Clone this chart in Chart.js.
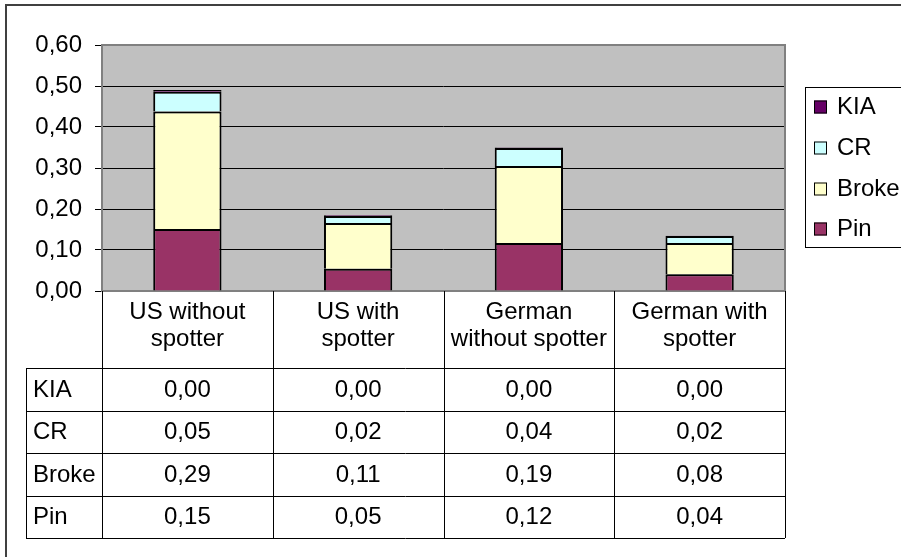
<!DOCTYPE html>
<html>
<head>
<meta charset="utf-8">
<script src="https://cdn.jsdelivr.net/npm/chart.js@4.4.1/dist/chart.umd.min.js"></script>
<style>
  html, body { margin: 0; padding: 0; background: #ffffff; }
  #wrap { position: relative; width: 901px; height: 557px; }
</style>
</head>
<body>
<div id="wrap"><canvas id="c" width="901" height="557"></canvas></div>
<script>
// ---- data ----
const categories = [
  ["US without", "spotter"],
  ["US with", "spotter"],
  ["German", "without spotter"],
  ["German with", "spotter"]
];
const seriesNames = ["Pin", "Broke", "CR", "KIA"];
const pinValues   = [0.151, 0.054, 0.117, 0.041];
const brokeValues = [0.287, 0.112, 0.188, 0.076];
const crValues    = [0.048, 0.017, 0.044, 0.017];
const kiaValues   = [0.004, 0.002, 0.001, 0.001];
const yTicks = [0, 0.1, 0.2, 0.3, 0.4, 0.5, 0.6];

// ---- styles ----
const FONT = '"Liberation Sans", Arial, sans-serif';
const FS = 24;
const colors = { Pin: "#993366", Broke: "#FFFFCC", CR: "#CCFFFF", KIA: "#660066" };
const seriesValues = { Pin: pinValues, Broke: brokeValues, CR: crValues, KIA: kiaValues };

const fmt = v => v.toFixed(2).replace(".", ",");

const datasets = seriesNames.map(name => ({
  label: name,
  data: seriesValues[name],
  backgroundColor: colors[name],
  borderColor: "#000000",
  borderWidth: 2,
  barPercentage: 0.4,
  categoryPercentage: 1.0
}));

const decorPlugin = {
  id: "decor",
  beforeDraw(chart) {
    const { ctx, chartArea: a } = chart;
    ctx.save();
    ctx.fillStyle = "#ffffff";
    ctx.fillRect(0, 0, chart.width, chart.height);
    ctx.fillStyle = "#C0C0C0";
    ctx.fillRect(a.left, a.top, a.right - a.left, a.bottom - a.top);
    ctx.restore();
  },
  beforeDatasetsDraw(chart) {
    const { ctx, chartArea: a } = chart;
    ctx.save();
    ctx.strokeStyle = "#808080";
    ctx.lineWidth = 2;
    ctx.strokeRect(a.left, a.top, a.right - a.left, a.bottom - a.top);
    ctx.restore();
  },
  afterDraw(chart) {
    const { ctx, chartArea: a } = chart;
    const xs = chart.scales.x;
    const n = categories.length;
    const colW = (a.right - a.left) / n;
    const headerBottom = xs.bottom;          // bottom of the category header row
    const rowH = 42.5;
    const tableLeft = 26;
    const rows = ["KIA", "CR", "Broke", "Pin"];
    const tableBottom = headerBottom + rowH * rows.length;

    ctx.save();
    // outer chart frame
    ctx.strokeStyle = "#404040";
    ctx.lineWidth = 2;
    ctx.beginPath();
    ctx.moveTo(6, 557); ctx.lineTo(6, 5); ctx.lineTo(901, 5);
    ctx.stroke();

    // data table lines
    ctx.strokeStyle = "#000000";
    ctx.lineWidth = 1;
    ctx.beginPath();
    for (let i = 0; i <= n; i++) {
      const x = Math.round(a.left + i * colW) + 0.5;
      ctx.moveTo(x, a.bottom); ctx.lineTo(x, tableBottom);
    }
    ctx.moveTo(tableLeft + 0.5, headerBottom); ctx.lineTo(tableLeft + 0.5, tableBottom);
    for (let r = 0; r <= rows.length; r++) {
      const y = Math.round(headerBottom + r * rowH) + 0.5;
      ctx.moveTo(tableLeft, y); ctx.lineTo(a.right, y);
    }
    ctx.stroke();

    // table text
    ctx.fillStyle = "#000000";
    ctx.font = FS + "px " + FONT;
    ctx.textBaseline = "middle";
    rows.forEach((name, r) => {
      const yc = headerBottom + r * rowH + rowH / 2 + 1;
      ctx.textAlign = "left";
      ctx.fillText(name, 33, yc);
      ctx.textAlign = "center";
      seriesValues[name].forEach((v, i) => {
        ctx.fillText(fmt(v), xs.getPixelForValue(i), yc);
      });
    });

    // legend
    ctx.strokeStyle = "#000000";
    ctx.lineWidth = 1;
    ctx.strokeRect(805.5, 87.5, 120, 160);
    const legendOrder = ["KIA", "CR", "Broke", "Pin"];
    const legendY = [107, 148, 189, 229];
    legendOrder.forEach((name, k) => {
      const yc = legendY[k];
      ctx.fillStyle = colors[name];
      ctx.fillRect(814, yc - 6.5, 13, 13);
      ctx.strokeRect(814.5, yc - 6, 12, 12);
      ctx.fillStyle = "#000000";
      ctx.textAlign = "left";
      ctx.textBaseline = "middle";
      ctx.fillText(name, 837, yc);
    });
    ctx.restore();
  }
};

new Chart(document.getElementById("c"), {
  type: "bar",
  data: { labels: categories, datasets },
  options: {
    responsive: false,
    animation: false,
    layout: { padding: { left: 0, top: 45, right: 116, bottom: 189 } },
    plugins: { legend: { display: false }, tooltip: { enabled: false } },
    scales: {
      x: {
        stacked: true,
        grid: { display: false, drawTicks: false },
        border: { display: false },
        ticks: {
          color: "#000000",
          font: { family: FONT, size: FS, lineHeight: "27px" },
          padding: 7.5,
          maxRotation: 0,
          autoSkip: false
        },
        afterFit: s => { s.height = 77; }
      },
      y: {
        stacked: true,
        min: 0,
        max: 0.6,
        afterBuildTicks: s => { s.ticks = yTicks.map(v => ({ value: v })); },
        grid: { color: "#000000", lineWidth: 1, tickLength: 7, tickColor: "#000000" },
        border: { display: false },
        ticks: {
          color: "#000000",
          font: { family: FONT, size: FS },
          padding: 13,
          callback: v => fmt(v)
        },
        afterFit: s => { s.width = 102; }
      }
    }
  },
  plugins: [decorPlugin]
});
</script>
</body>
</html>
